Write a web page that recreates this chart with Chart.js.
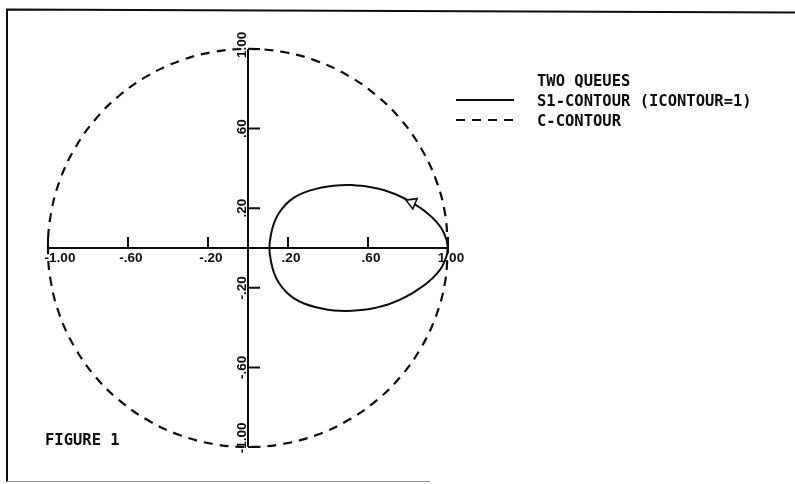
<!DOCTYPE html>
<html>
<head>
<meta charset="utf-8">
<script src="https://cdn.jsdelivr.net/npm/chart.js@4.4.1/dist/chart.umd.min.js"></script>
<style>
  html, body { margin: 0; padding: 0; background: #ffffff; }
  canvas { display: block; }
</style>
</head>
<body>
<canvas id="c" width="795" height="484"></canvas>
<script>
// C-contour: the unit circle |z| = 1, listed every 10 degrees
const cContourX = [1.000, 0.985, 0.940, 0.866, 0.766, 0.643, 0.500, 0.342, 0.174, 0.000,
  -0.174, -0.342, -0.500, -0.643, -0.766, -0.866, -0.940, -0.985, -1.000,
  -0.985, -0.940, -0.866, -0.766, -0.643, -0.500, -0.342, -0.174, 0.000,
  0.174, 0.342, 0.500, 0.643, 0.766, 0.866, 0.940, 0.985, 1.000];
const cContourY = [0.000, 0.174, 0.342, 0.500, 0.643, 0.766, 0.866, 0.940, 0.985, 1.000,
  0.985, 0.940, 0.866, 0.766, 0.643, 0.500, 0.342, 0.174, 0.000,
  -0.174, -0.342, -0.500, -0.643, -0.766, -0.866, -0.940, -0.985, -1.000,
  -0.985, -0.940, -0.866, -0.766, -0.643, -0.500, -0.342, -0.174, 0.000];

// S1-contour (ICONTOUR=1), traced counter-clockwise starting from its top
const s1X = [0.520, 0.460, 0.400, 0.340, 0.280, 0.230, 0.190, 0.155, 0.130, 0.115, 0.107,
  0.115, 0.130, 0.155, 0.190, 0.230, 0.280, 0.340, 0.400, 0.460, 0.520,
  0.580, 0.640, 0.700, 0.760, 0.820, 0.860, 0.900, 0.940, 0.970, 0.990, 1.000,
  0.990, 0.970, 0.940, 0.900, 0.860, 0.820, 0.760, 0.700, 0.640, 0.580, 0.520];
const s1Y = [0.316, 0.315, 0.309, 0.297, 0.278, 0.253, 0.220, 0.176, 0.125, 0.068, 0.000,
  -0.068, -0.125, -0.176, -0.220, -0.253, -0.279, -0.298, -0.310, -0.316, -0.316,
  -0.311, -0.300, -0.284, -0.260, -0.228, -0.202, -0.172, -0.134, -0.094, -0.048, 0.000,
  0.048, 0.094, 0.134, 0.172, 0.202, 0.228, 0.260, 0.284, 0.300, 0.311, 0.316];

// direction arrow sitting on the S1-contour
const arrowX = [0.820];
const arrowY = [0.228];

// axis ticks
const xTickValues = [-1.0, -0.6, -0.2, 0.2, 0.6, 1.0];
const xTickLabels = ['-1.00', '-.60', '-.20', '.20', '.60', '1.00'];
const yTickValues = [-1.0, -0.6, -0.2, 0.2, 0.6, 1.0];
const yTickLabels = ['-1.00', '-.60', '-.20', '.20', '.60', '1.00'];

// legend and caption text
const legendTitle = 'TWO QUEUES';
const seriesLabels = ['S1-CONTOUR (ICONTOUR=1)', 'C-CONTOUR'];
const figureLabel = 'FIGURE 1';

const INK = '#0d0d0d';
const toPoints = (xs, ys) => xs.map((x, i) => ({ x: x, y: ys[i] }));

// Frame, crossing axes with ticks, legend and caption
const plotDecor = {
  id: 'plotDecor',
  beforeDatasetsDraw(chart) {
    const ctx = chart.ctx;
    const xs = chart.scales.x, ys = chart.scales.y;
    const x0 = xs.getPixelForValue(0);
    const y0 = ys.getPixelForValue(0);
    ctx.save();
    ctx.strokeStyle = INK;
    ctx.fillStyle = INK;
    ctx.lineCap = 'butt';

    // page frame
    ctx.lineWidth = 2;
    ctx.beginPath();
    ctx.moveTo(7, 482);
    ctx.lineTo(7, 9.5);
    ctx.lineTo(795, 12.5);
    ctx.stroke();
    ctx.strokeStyle = '#9a9a9a';
    ctx.lineWidth = 1;
    ctx.beginPath();
    ctx.moveTo(7, 481.5);
    ctx.lineTo(430, 481.5);
    ctx.stroke();
    ctx.strokeStyle = INK;

    // horizontal axis with upward ticks
    ctx.lineWidth = 2;
    ctx.beginPath();
    ctx.moveTo(xs.getPixelForValue(xTickValues[0]), y0);
    ctx.lineTo(xs.getPixelForValue(xTickValues[xTickValues.length - 1]), y0);
    xTickValues.forEach(v => {
      const px = xs.getPixelForValue(v);
      ctx.moveTo(px, y0);
      ctx.lineTo(px, y0 - 11);
    });
    // vertical axis with ticks to the right
    ctx.moveTo(x0, ys.getPixelForValue(yTickValues[0]));
    ctx.lineTo(x0, ys.getPixelForValue(yTickValues[yTickValues.length - 1]));
    yTickValues.forEach(v => {
      const py = ys.getPixelForValue(v);
      ctx.moveTo(x0, py);
      ctx.lineTo(x0 + 12, py);
    });
    ctx.stroke();

    // tick labels
    ctx.font = 'bold 13.5px "Liberation Sans", Arial, sans-serif';
    ctx.textAlign = 'center';
    ctx.textBaseline = 'alphabetic';
    xTickValues.forEach((v, i) => {
      const shift = i === 0 ? 12 : 3;
      ctx.fillText(xTickLabels[i], xs.getPixelForValue(v) + shift, y0 + 14);
    });
    yTickValues.forEach((v, i) => {
      // the end labels are pulled up so they stay within the axis span
      const shift = i === 0 ? -9 : (i === yTickValues.length - 1 ? -4 : 0);
      ctx.save();
      ctx.translate(x0 - 2, ys.getPixelForValue(v) + shift);
      ctx.rotate(-Math.PI / 2);
      ctx.fillText(yTickLabels[i], 0, 0);
      ctx.restore();
    });

    // legend
    ctx.font = 'bold 15.5px "DejaVu Sans Mono", monospace';
    ctx.textAlign = 'left';
    ctx.fillText(legendTitle, 537, 86);
    const rows = [0, 1].map(i => chart.data.datasets.find(d => d.label === seriesLabels[i]));
    rows.forEach((ds, i) => {
      const yLine = 100 + i * 20;
      ctx.save();
      ctx.lineWidth = 2;
      ctx.setLineDash(ds.borderDash || []);
      ctx.beginPath();
      ctx.moveTo(456, yLine);
      ctx.lineTo(514, yLine);
      ctx.stroke();
      ctx.restore();
      ctx.fillText(ds.label, 537, yLine + 6);
    });

    // caption
    ctx.fillText(figureLabel, 45, 445);
    ctx.restore();
  }
};

new Chart(document.getElementById('c'), {
  type: 'scatter',
  data: {
    datasets: [
      {
        label: 'direction',
        data: toPoints(arrowX, arrowY),
        showLine: false,
        pointStyle: 'triangle',
        rotation: -68,
        pointRadius: 6.5,
        borderColor: INK,
        borderWidth: 1.6,
        backgroundColor: '#ffffff',
        order: -1
      },
      {
        label: seriesLabels[0],
        data: toPoints(s1X, s1Y),
        showLine: true,
        fill: false,
        tension: 0.4,
        borderColor: INK,
        borderWidth: 2,
        pointRadius: 0
      },
      {
        label: seriesLabels[1],
        data: toPoints(cContourX, cContourY),
        showLine: true,
        fill: false,
        tension: 0.4,
        borderColor: INK,
        borderWidth: 2.2,
        borderDash: [9, 7],
        pointRadius: 0
      }
    ]
  },
  options: {
    responsive: false,
    animation: false,
    layout: { padding: 0, autoPadding: false },
    plugins: {
      legend: { display: false },
      tooltip: { enabled: false }
    },
    scales: {
      x: { type: 'linear', min: -1.24, max: 2.735, display: false },
      y: { type: 'linear', min: -1.186, max: 1.246, display: false }
    }
  },
  plugins: [plotDecor]
});
</script>
</body>
</html>
